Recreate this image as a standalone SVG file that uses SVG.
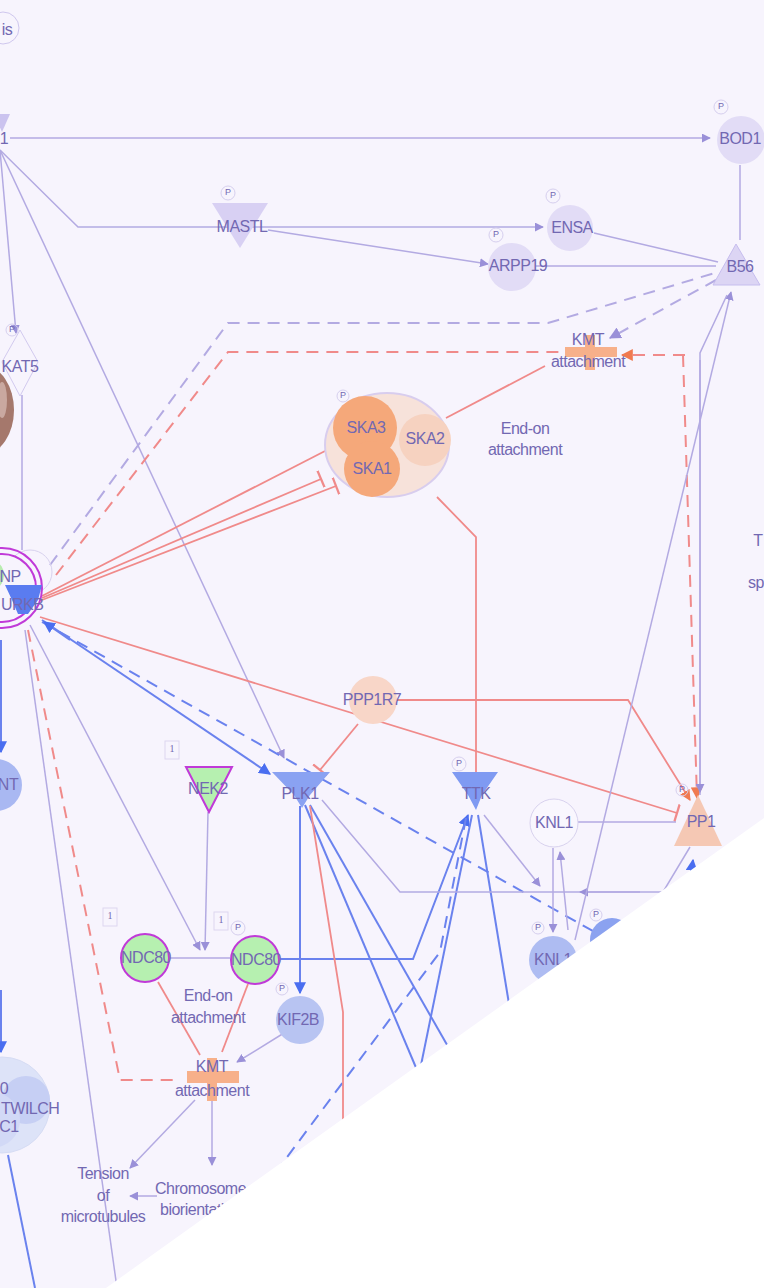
<svg xmlns="http://www.w3.org/2000/svg" width="764" height="1288" viewBox="0 0 764 1288">
<style>
.g{stroke:#b3aae2;stroke-width:1.5;fill:none}
.b{stroke:#6a82ee;stroke-width:2;fill:none}
.r{stroke:#f08a8a;stroke-width:1.8;fill:none}
.gd{stroke:#b3aae2;stroke-width:2;fill:none;stroke-dasharray:12 8}
.rd{stroke:#f08a8a;stroke-width:2;fill:none;stroke-dasharray:12 8}
.bd{stroke:#6a82ee;stroke-width:2;fill:none;stroke-dasharray:12 8}
text{font-family:"Liberation Sans",Arial,sans-serif;fill:#7268b2;font-size:16px;text-anchor:middle;dominant-baseline:middle;letter-spacing:-0.5px}
.s{text-anchor:start}
.p{font-size:9px;letter-spacing:0}
.n{font-size:10px;font-family:"Liberation Serif",serif;letter-spacing:0}
.pc{fill:none;stroke:#d6cfee;stroke-width:1}
</style>
<defs>
<marker id="ag" viewBox="0 0 10 10" refX="9" refY="5" markerWidth="6" markerHeight="6" orient="auto"><path d="M0,0L10,5L0,10z" fill="#9a90d8"/></marker>
<marker id="ab" viewBox="0 0 10 10" refX="9" refY="5" markerWidth="6" markerHeight="6" orient="auto"><path d="M0,0L10,5L0,10z" fill="#4a6ef0"/></marker>
<marker id="ar" viewBox="0 0 10 10" refX="9" refY="5" markerWidth="6" markerHeight="6" orient="auto"><path d="M0,0L10,5L0,10z" fill="#f07a50"/></marker>
<marker id="tr" viewBox="0 0 4 16" refX="2" refY="8" markerWidth="3" markerHeight="10" orient="auto"><path d="M2,0V16" stroke="#f08a8a" stroke-width="2"/></marker>
</defs>
<rect width="764" height="1288" fill="#f7f4fd"/>

<g id="connectors">
<path class="g" d="M10,138H710" marker-end="url(#ag)"/>
<path class="g" d="M0,150L78,227H543" marker-end="url(#ag)"/>
<path class="g" d="M268,230L488,264" marker-end="url(#ag)"/>
<path class="g" d="M0,150L16,333" marker-end="url(#ag)"/>
<path class="g" d="M0,150L284,758" marker-end="url(#ag)"/>
<path class="g" d="M740,165V240"/>
<path class="g" d="M594,233L718,262"/>
<path class="g" d="M536,266H716"/>
<path class="g" d="M22,395V550"/>
<path class="gd" d="M50,565L228,323H548L718,272"/>
<path class="gd" d="M716,280L610,338" marker-end="url(#ag)"/>
<path class="rd" d="M56,575L228,352H575"/>
<path class="rd" d="M685,355H622" marker-end="url(#ar)"/>
<path class="rd" d="M683,355L697,798" marker-end="url(#ar)"/>
<path class="r" d="M42,596L327,450"/>
<path class="r" d="M42,598L321,479" marker-end="url(#tr)"/>
<path class="r" d="M42,600L336,486" marker-end="url(#tr)"/>
<path class="r" d="M545,366L446,418"/>
<path class="r" d="M437,497L476,537V775"/>
<path class="r" d="M40,617L677,813" marker-end="url(#tr)"/>
<path class="r" d="M396,700H628L690,800" marker-end="url(#ar)"/>
<path class="r" d="M358,724L320,770" marker-end="url(#tr)"/>
<path class="b" d="M42,620L270,774" marker-end="url(#ab)"/>
<path class="bd" d="M42,622L600,935"/>
<path class="b" d="M70,640L44,622" marker-end="url(#ab)"/>
<path class="g" d="M30,625L200,950" marker-end="url(#ag)"/>
<path class="g" d="M25,630L117,1288"/>
<path class="rd" d="M28,630L120,1080H180"/>
<path class="b" d="M1,640V752" marker-end="url(#ab)"/>
<path class="b" d="M1,990V1052" marker-end="url(#ab)"/>
<path class="b" d="M8,1155L35,1288"/>
<path class="g" d="M208,812L205,950" marker-end="url(#ag)"/>
<path class="g" d="M170,958H230"/>
<path class="b" d="M280,959H413L468,815" marker-end="url(#ab)"/>
<path class="b" d="M300,806V993" marker-end="url(#ab)"/>
<path class="g" d="M284,1033L237,1062" marker-end="url(#ag)"/>
<path class="r" d="M158,982L200,1055"/>
<path class="r" d="M248,984L222,1052"/>
<path class="g" d="M195,1100L130,1168" marker-end="url(#ag)"/>
<path class="g" d="M212,1100V1165" marker-end="url(#ag)"/>
<path class="g" d="M157,1196H130" marker-end="url(#ag)"/>
<path class="b" d="M305,805L417,1070"/>
<path class="b" d="M310,805L450,1050"/>
<path class="b" d="M472,815L420,1070"/>
<path class="b" d="M478,815L510,1010"/>
<path class="bd" d="M466,818L440,952L270,1180"/>
<path class="r" d="M310,806L343,1012V1135"/>
<path class="g" d="M484,815L540,886" marker-end="url(#ag)"/>
<path class="g" d="M322,800L400,892H663L690,847"/>
<path class="g" d="M640,892H580" marker-end="url(#ag)"/>
<path class="g" d="M553,848V932" marker-end="url(#ag)"/>
<path class="g" d="M568,930L560,852" marker-end="url(#ag)"/>
<path class="g" d="M575,940L731,292" marker-end="url(#ag)"/>
<path class="g" d="M700,795V353L727,295"/>
<path class="g" d="M700,360V792" marker-end="url(#ag)"/>
<path class="g" d="M578,822H676"/>
<path class="b" d="M688,900L693,860" marker-end="url(#ab)"/>
</g>

<g id="node-is"><circle cx="3" cy="28" r="16" fill="none" stroke="#cfc7ee"/><text x="7" y="31">is</text></g>
<g id="node-1"><path d="M-6,114L10,114L2,132z" fill="#cbc3ef"/><text x="4" y="140">1</text></g>
<g id="node-MASTL"><path d="M212,203H268L240,248z" fill="#d8d0f3"/><circle class="pc" cx="228" cy="193" r="7"/><text class="p" x="228" y="193">P</text><text x="242" y="228">MASTL</text></g>
<g id="node-ENSA"><circle cx="570" cy="228" r="23" fill="#e2dcf6"/><circle class="pc" cx="553" cy="196" r="7"/><text class="p" x="553" y="196">P</text><text x="572" y="229">ENSA</text></g>
<g id="node-ARPP19"><circle cx="512" cy="267" r="24" fill="#e2dcf6"/><circle class="pc" cx="496" cy="235" r="7"/><text class="p" x="496" y="235">P</text><text x="518" y="267">ARPP19</text></g>
<g id="node-BOD1"><circle cx="741" cy="140" r="24" fill="#e2dcf6"/><circle class="pc" cx="721" cy="107" r="7"/><text class="p" x="721" y="107">P</text><text x="740" y="140">BOD1</text></g>
<g id="node-B56"><path d="M736,244L760,285H713z" fill="#dcd5f4" stroke="#c6bdee"/><text x="740" y="268">B56</text></g>
<g id="node-KAT5"><path d="M20,330L38,362L20,396L2,362z" fill="#f7f4fd" stroke="#d2caef"/><circle class="pc" cx="12" cy="330" r="6"/><text class="p" x="12" y="330">P</text><text x="20" y="368">KAT5</text></g>
<g id="node-brown"><ellipse cx="-16" cy="410" rx="30" ry="44" fill="#a5786c"/><ellipse cx="2" cy="400" rx="5" ry="18" fill="#c9a8a0"/></g>
<g id="node-AURKB">
<circle cx="30" cy="572" r="22" fill="none" stroke="#d8d2ee"/>
<circle cx="2" cy="588" r="40" fill="none" stroke="#c03ad8" stroke-width="2"/>
<circle cx="2" cy="588" r="34" fill="#f7f4fd" stroke="#c03ad8" stroke-width="2"/>
<ellipse cx="-4" cy="575" rx="8" ry="12" fill="#b8ecb0"/>
<path d="M5,585H42L38,600L28,614H18L12,600z" fill="#5a7cf0"/>
<text x="10" y="578">NP</text>
<text class="s" x="1" y="606">URKB</text>
</g>
<g id="node-SKA">
<ellipse cx="387" cy="445" rx="62" ry="52" fill="#f7e2da" stroke="#d8cdee" stroke-width="2"/>
<circle cx="425" cy="440" r="26" fill="#f6d2c0"/>
<circle cx="365" cy="428" r="32" fill="#f5a87a"/>
<circle cx="372" cy="469" r="28" fill="#f5a87a"/>
<circle class="pc" cx="343" cy="396" r="6"/><text class="p" x="343" y="396">P</text>
<text x="366" y="429">SKA3</text><text x="425" y="440">SKA2</text><text x="372" y="470">SKA1</text>
</g>
<text x="525" y="430">End-on</text><text x="525" y="451">attachment</text>
<g id="node-KMT-top"><path d="M585,335h10v12h22v10h-22v13h-10v-13h-20v-10h20z" fill="#f7b08a"/><text x="588" y="341">KMT</text><text x="588" y="363">attachment</text></g>
<g id="node-PPP1R7"><circle cx="373" cy="700" r="24" fill="#f8d6c8"/><text x="372" y="701">PPP1R7</text></g>
<g id="node-NT"><circle cx="-4" cy="785" r="26" fill="#a9b8f2"/><text x="8" y="786">NT</text></g>
<g id="node-NEK2"><rect x="165" y="741" width="14" height="18" fill="none" stroke="#ddd6f0"/><text class="n" x="172" y="750">1</text><path d="M186,767H232L209,812z" fill="#b6f0b0" stroke="#c03ad8" stroke-width="2"/><text x="208" y="790">NEK2</text></g>
<g id="node-PLK1"><path d="M272,772H330L310,795L302,808L294,795z" fill="#8aa2f2"/><text x="300" y="795">PLK1</text></g>
<g id="node-TTK"><path d="M452,772H498L482,795L476,810L468,795z" fill="#7f9af2"/><circle class="pc" cx="459" cy="764" r="7"/><text class="p" x="459" y="764">P</text><text x="476" y="795">TTK</text></g>
<g id="node-KNL1"><circle cx="554" cy="823" r="24" fill="#f9f7fe" stroke="#d8d2ee"/><text x="554" y="824">KNL1</text></g>
<g id="node-PP1"><path d="M698,795L722,846H674z" fill="#f5c8b4"/><circle class="pc" cx="682" cy="790" r="6"/><text class="p" x="682" y="790">P</text><text x="701" y="823">PP1</text></g>
<g id="node-NDC80-a"><rect x="103" y="908" width="14" height="18" fill="none" stroke="#ddd6f0"/><text class="n" x="110" y="917">1</text><circle cx="145" cy="958" r="24" fill="#b6f0b0" stroke="#c03ad8" stroke-width="2"/><text x="146" y="959">NDC80</text></g>
<g id="node-NDC80-b"><rect x="214" y="912" width="14" height="18" fill="none" stroke="#ddd6f0"/><text class="n" x="221" y="921">1</text><circle class="pc" cx="238" cy="928" r="7"/><text class="p" x="238" y="928">P</text><circle cx="255" cy="960" r="24" fill="#b6f0b0" stroke="#c03ad8" stroke-width="2"/><text x="256" y="961">NDC80</text></g>
<text x="208" y="997">End-on</text><text x="208" y="1019">attachment</text>
<g id="node-KIF2B"><circle cx="300" cy="1020" r="24" fill="#b8c4f2"/><circle class="pc" cx="282" cy="989" r="6"/><text class="p" x="282" y="989">P</text><text x="298" y="1021">KIF2B</text></g>
<g id="node-KMT-bottom"><path d="M207,1058h10v13h22v12h-22v18h-10v-18h-20v-12h20z" fill="#f7b08a"/><text x="212" y="1068">KMT</text><text x="212" y="1092">attachment</text></g>
<g id="node-TWILCH"><circle cx="2" cy="1105" r="48" fill="#dde3f8" stroke="#d6dcf4"/><circle cx="26" cy="1100" r="24" fill="#c6cff4"/><circle cx="-8" cy="1120" r="28" fill="#d2d9f6"/><text x="4" y="1090">0</text><text class="s" x="1" y="1110">TWILCH</text><text x="9" y="1128">C1</text></g>
<g id="node-Tension"><text x="103" y="1175">Tension</text><text x="103" y="1197">of</text><text x="103" y="1218">microtubules</text></g>
<g id="node-Chromosome"><text class="s" x="155" y="1190">Chromosome</text><text class="s" x="160" y="1211">biorientation</text></g>
<g id="node-KNL1-low"><circle cx="553" cy="960" r="24" fill="#aebcf2"/><circle class="pc" cx="538" cy="928" r="6"/><text class="p" x="538" y="928">P</text><text x="553" y="961">KNL1</text></g>
<g id="node-right"><circle cx="612" cy="940" r="22" fill="#8ba2f0"/><circle class="pc" cx="596" cy="915" r="6"/><text class="p" x="596" y="915">P</text></g>
<text x="758" y="542">T</text><text x="756" y="584">sp</text>
<polygon points="764,818 764,1288 106,1288" fill="#ffffff"/>
</svg>
